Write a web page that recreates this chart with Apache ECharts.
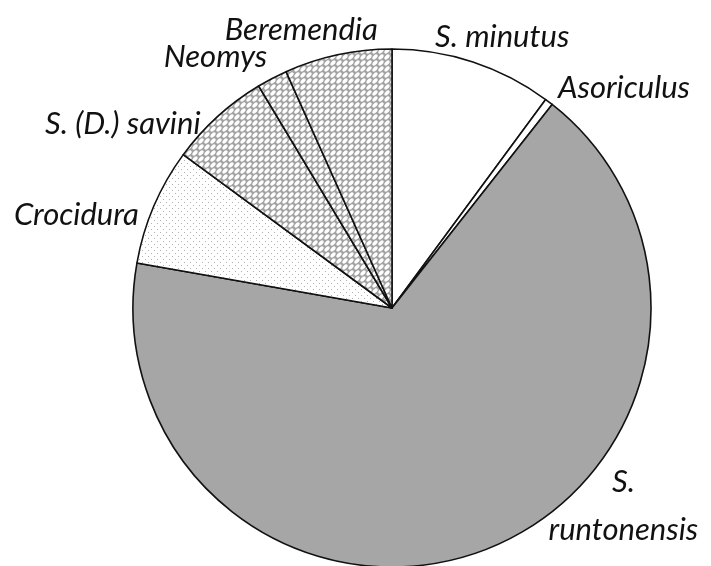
<!DOCTYPE html>
<html lang="en">

<head>
  <meta charset="UTF-8">
  <title>Shrew pie</title>
  <style>
    html, body { margin: 0; padding: 0; background: #fff; }
  </style>
</head>

<body>
  <div id="pie" style="width: 711px;height: 566px;"></div>
  <script src="https://cdn.jsdelivr.net/npm/echarts@6/dist/echarts.min.js"></script>
  <script>
    // percentages (clockwise from 12 o'clock)
    var taxa = ['S. minutus', 'Asoriculus', 'S.\nruntonensis', 'Crocidura', 'S. (D.) savini', 'Neomys', 'Beremendia'];
    var shares = [10.1, 0.5, 67.1, 7.3, 6.3, 1.9, 6.7];
    var fills = ['white', 'white', 'grey', 'dots', 'hatch', 'hatch', 'hatch'];

    // nudges of each label away from the default outside anchor
    var labelShift = [[-43, -25], [4, -14], [134, -44], [-10, 9], [-12, 7], [0, -21], [45, -25]];

    function hatchTile() {
      var c = document.createElement('canvas');
      c.width = 6; c.height = 6;
      var ctx = c.getContext('2d');
      ctx.fillStyle = '#a2a2a2';
      ctx.fillRect(0, 0, 6, 6);
      ctx.fillStyle = '#ffffff';
      for (var i = -1; i <= 1; i++) {
        ctx.beginPath();
        ctx.ellipse(3 + i * 6, 3 - i * 6, 3.2, 1.8, -Math.PI / 4, 0, Math.PI * 2);
        ctx.fill();
      }
      return c;
    }

    function dotTile() {
      var c = document.createElement('canvas');
      c.width = 6; c.height = 6;
      var ctx = c.getContext('2d');
      ctx.fillStyle = '#ffffff';
      ctx.fillRect(0, 0, 6, 6);
      ctx.fillStyle = '#b0b0b0';
      ctx.fillRect(1, 1, 1, 1);
      ctx.fillRect(4, 4, 1, 1);
      return c;
    }

    var styles = {
      white: '#ffffff',
      grey: '#a6a6a6',
      dots: { image: dotTile(), repeat: 'repeat' },
      hatch: { image: hatchTile(), repeat: 'repeat' }
    };

    var chart = echarts.init(document.getElementById('pie'));
    chart.setOption({
      animation: false,
      series: [{
        type: 'pie',
        center: [392, 308],
        radius: 259,
        startAngle: 90,
        clockwise: true,
        avoidLabelOverlap: false,
        data: taxa.map(function (name, i) {
          var item = {
            name: name,
            value: shares[i],
            itemStyle: { color: styles[fills[i]] }
          };
          if (name.indexOf('\n') >= 0) {
            item.label = { lineHeight: 48 };
          }
          return item;
        }),
        itemStyle: {
          borderColor: '#111',
          borderWidth: 1.6
        },
        label: {
          show: true,
          position: 'outside',
          formatter: '{b}',
          fontFamily: 'Lato',
          fontStyle: 'italic',
          fontSize: 31,
          color: '#111'
        },
        labelLine: {
          show: false,
          length: 0,
          length2: 0
        },
        labelLayout: function (p) {
          var s = labelShift[p.dataIndex];
          var out = { dx: s[0], dy: s[1], hideOverlap: false };
          if (p.dataIndex === 2) out.align = 'center';
          return out;
        }
      }]
    });
  </script>
</body>

</html>
